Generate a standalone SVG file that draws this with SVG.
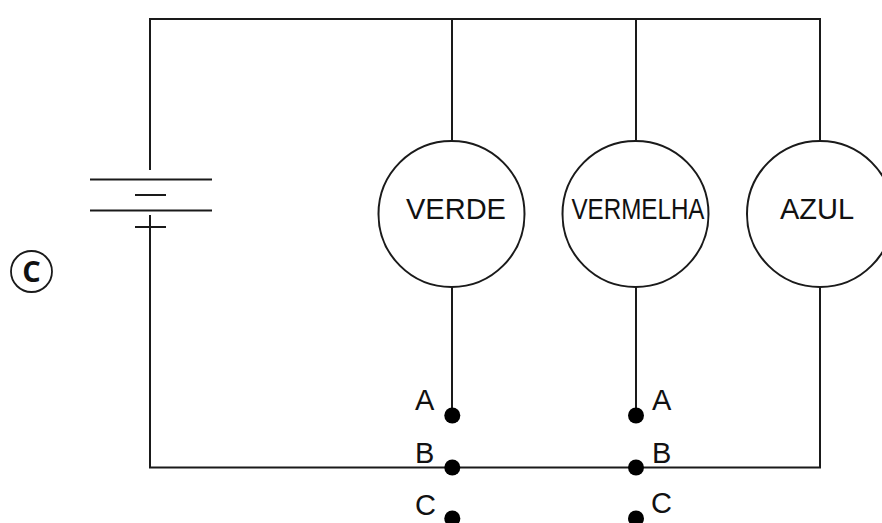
<svg xmlns="http://www.w3.org/2000/svg" width="882" height="523" viewBox="0 0 882 523">
<style>
.w{fill:none;stroke:#1a1a1a;stroke-width:2}
.c{fill:#fff;stroke:#1a1a1a;stroke-width:2}
.d{fill:#000}
text{font-family:"Liberation Sans",Arial,sans-serif;fill:#111}
.n{font-size:29px;text-anchor:middle}
.l{font-size:29px}
</style>
<rect width="882" height="523" fill="#fff"/>
<g id="connectors" class="w">
<path d="M150 170V19H820V141"/>
<path d="M452 19V141M636 19V141"/>
<path d="M150 215V467.500H636"/>
<path d="M452 286V415M636 286V415M820 286V467.500H636"/>
</g>
<g id="battery" class="w">
<path d="M90 179.500H212M135 195H166M90 210.500H212M135 227H166"/>
</g>
<g id="verde"><circle class="c" cx="451.500" cy="214" r="73"/><text class="n" x="456" y="218.500">VERDE</text></g>
<g id="vermelha"><circle class="c" cx="635.500" cy="214" r="73"/><text class="n" x="638" y="218.500" textLength="133" lengthAdjust="spacingAndGlyphs">VERMELHA</text></g>
<g id="azul"><circle class="c" cx="820" cy="214" r="73"/><text class="n" x="817" y="218.500">AZUL</text></g>
<g id="switch-left">
<circle class="d" cx="452.300" cy="415.500" r="8"/><circle class="d" cx="452.300" cy="467.500" r="8"/><circle class="d" cx="452.300" cy="518.500" r="8"/>
<text class="l" x="415" y="410">A</text><text class="l" x="415" y="463">B</text><text class="l" x="415" y="515">C</text>
</g>
<g id="switch-right">
<circle class="d" cx="636" cy="415.500" r="8"/><circle class="d" cx="636" cy="467.500" r="8"/><circle class="d" cx="636" cy="518.500" r="8"/>
<text class="l" x="652" y="410">A</text><text class="l" x="652" y="463">B</text><text class="l" x="651" y="513">C</text>
</g>
<g id="item-c">
<circle cx="31.500" cy="271.500" r="20.500" fill="none" stroke="#1a1a1a" stroke-width="1.800"/>
<text x="31.500" y="282" text-anchor="middle" style="font-family:'Open Sans',sans-serif;font-weight:700;font-size:29px">C</text>
</g>
</svg>
